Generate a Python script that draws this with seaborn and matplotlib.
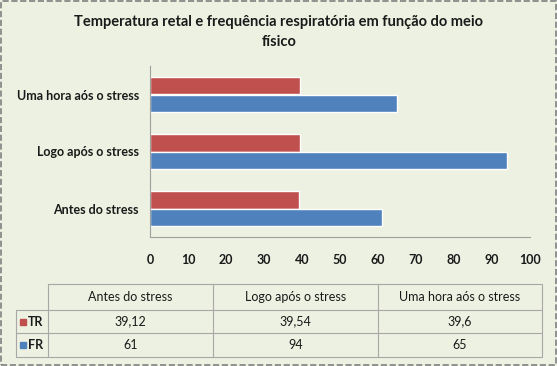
import numpy as np
import pandas as pd
import matplotlib
matplotlib.use("Agg")
import matplotlib.pyplot as plt
from matplotlib.lines import Line2D
from matplotlib.patches import Rectangle
import seaborn as sns

# ------------------------------------------------------------
# Data
# ------------------------------------------------------------
categories = ["Antes do stress", "Logo após o stress", "Uma hora aós o stress"]
series = ["TR", "FR"]
tr_values = [39.12, 39.54, 39.6]
fr_values = [61, 94, 65]
x_ticks = [0, 10, 20, 30, 40, 50, 60, 70, 80, 90, 100]
title = "Temperatura retal e frequência respiratória em função do meio\nfísico"

colors = {"TR": "#C0504D", "FR": "#4F81BD"}
bg = "#edf1e1"

df = pd.DataFrame({
    "categoria": categories * 2,
    "serie": ["TR"] * 3 + ["FR"] * 3,
    "valor": tr_values + fr_values,
})

sns.set_style("white")
plt.rcParams["font.family"] = ["Lato", "DejaVu Sans"]

W, H = 557, 366
fig = plt.figure(figsize=(W / 100, H / 100), dpi=100)
fig.patch.set_facecolor(bg)

def fx(px):
    return px / W

def fy(py):
    return 1 - py / H

ax = fig.add_axes([fx(150), fy(237), fx(530) - fx(150), fy(66) - fy(237)])
ax.set_facecolor(bg)

sns.barplot(data=df, x="valor", y="categoria", hue="serie",
            order=categories[::-1], hue_order=series,
            palette=colors, width=0.6, orient="h", ax=ax,
            saturation=1, legend=False)

ax.set_xlim(0, 100)
ax.set_xticks(x_ticks)
ax.set_xlabel("")
ax.set_ylabel("")
for s in ["top", "right"]:
    ax.spines[s].set_visible(False)
for s in ["left", "bottom"]:
    ax.spines[s].set_color("#a0a0a0")
    ax.spines[s].set_linewidth(0.8)
ax.tick_params(axis="x", length=0, pad=12, labelsize=9)
ax.tick_params(axis="y", length=0, pad=8, labelsize=9)
for lbl in ax.get_xticklabels() + ax.get_yticklabels():
    lbl.set_fontweight("bold")
    lbl.set_color("#1a1a1a")

fig.text(fx(279), fy(32), title, ha="center", va="center",
         fontsize=10.5, fontweight="bold", color="#1a1a1a",
         linespacing=1.5)

# ------------------------------------------------------------
# Data table below the chart
# ------------------------------------------------------------
col_x = [16, 48, 213, 378, 542]
row_y = [284, 310, 333, 357]
lc = "#a8a8a8"

def hline(y, x0, x1):
    fig.add_artist(Line2D([fx(x0), fx(x1)], [fy(y), fy(y)], color=lc, lw=0.8))

def vline(x, y0, y1):
    fig.add_artist(Line2D([fx(x), fx(x)], [fy(y0), fy(y1)], color=lc, lw=0.8))

hline(row_y[0], col_x[1], col_x[-1])
for y in row_y[1:]:
    hline(y, col_x[0], col_x[-1])
vline(col_x[0], row_y[1], row_y[-1])
for x in col_x[1:]:
    vline(x, row_y[0], row_y[-1])

def fmt(v):
    return str(v).replace(".", ",")

for i, cat in enumerate(categories):
    cx = (col_x[i + 1] + col_x[i + 2]) / 2
    fig.text(fx(cx), fy((row_y[0] + row_y[1]) / 2), cat, ha="center",
             va="center", fontsize=9, color="#1a1a1a")
    fig.text(fx(cx), fy((row_y[1] + row_y[2]) / 2), fmt(tr_values[i]),
             ha="center", va="center", fontsize=9, color="#1a1a1a")
    fig.text(fx(cx), fy((row_y[2] + row_y[3]) / 2), fmt(fr_values[i]),
             ha="center", va="center", fontsize=9, color="#1a1a1a")

for j, s in enumerate(series):
    yc = (row_y[j + 1] + row_y[j + 2]) / 2
    fig.add_artist(Rectangle((fx(20), fy(yc + 3)), fx(6), fy(0) - fy(6),
                             color=colors[s], transform=fig.transFigure))
    fig.text(fx(28), fy(yc), s, ha="left", va="center", fontsize=9,
             fontweight="bold", color="#1a1a1a")

# dashed outer border
fig.add_artist(Rectangle((0.002, 0.003), 0.996, 0.994, fill=False,
                         ec="#808080", lw=1.2, ls="--",
                         transform=fig.transFigure))

fig.savefig("out.png", dpi=100, facecolor=fig.get_facecolor())
